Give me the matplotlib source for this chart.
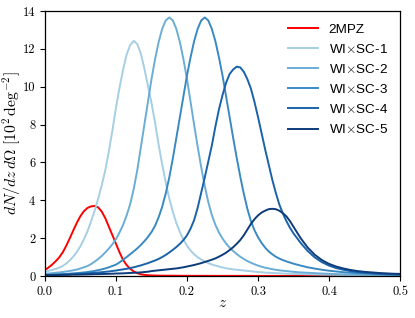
import numpy as np
import matplotlib
matplotlib.use("Agg")
import matplotlib.pyplot as plt

plt.rcParams['font.family'] = 'serif'
plt.rcParams['font.serif'] = ['cmr10']
plt.rcParams['mathtext.fontset'] = 'cm'
plt.rcParams['axes.formatter.use_mathtext'] = True

z = [0.000, 0.005, 0.010, 0.015, 0.020, 0.025, 0.030, 0.035, 0.040, 0.045,
     0.050, 0.055, 0.060, 0.065, 0.070, 0.075, 0.080, 0.085, 0.090, 0.095,
     0.100, 0.105, 0.110, 0.115, 0.120, 0.125, 0.130, 0.135, 0.140, 0.145,
     0.150, 0.155, 0.160, 0.165, 0.170, 0.175, 0.180, 0.185, 0.190, 0.195,
     0.200, 0.205, 0.210, 0.215, 0.220, 0.225, 0.230, 0.235, 0.240, 0.245,
     0.250, 0.255, 0.260, 0.265, 0.270, 0.275, 0.280, 0.285, 0.290, 0.295,
     0.300, 0.305, 0.310, 0.315, 0.320, 0.325, 0.330, 0.335, 0.340, 0.345,
     0.350,
     0.36, 0.37, 0.38, 0.39, 0.40, 0.41, 0.42, 0.43, 0.44, 0.45, 0.46, 0.47,
     0.48, 0.49, 0.50]

twompz = [0.32, 0.45, 0.60, 0.78, 0.98, 1.25, 1.60, 2.00, 2.42, 2.82,
          3.17, 3.43, 3.60, 3.68, 3.70, 3.62, 3.40, 3.05, 2.60, 2.15,
          1.70, 1.25, 0.85, 0.58, 0.38, 0.24, 0.15, 0.09, 0.06, 0.04,
          0.030, 0.025, 0.020, 0.018, 0.016, 0.015, 0.014, 0.013, 0.012, 0.011,
          0.010, 0.010, 0.009, 0.009, 0.009, 0.008, 0.008, 0.008, 0.008, 0.007,
          0.007, 0.007, 0.007, 0.006, 0.006, 0.006, 0.006, 0.006, 0.005, 0.005,
          0.005, 0.005, 0.005, 0.005, 0.005, 0.004, 0.004, 0.004, 0.004, 0.004,
          0.004,
          0.004, 0.003, 0.003, 0.003, 0.003, 0.003, 0.002, 0.002, 0.002, 0.002,
          0.002, 0.002, 0.002, 0.002, 0.002]

sc1 = [0.23, 0.27, 0.32, 0.37, 0.44, 0.53, 0.66, 0.83, 1.03, 1.28,
       1.58, 1.95, 2.38, 2.90, 3.45, 4.10, 4.80, 5.60, 6.60, 7.70,
       8.90, 9.95, 10.90, 11.70, 12.20, 12.42, 12.25, 11.75, 10.95, 10.05,
       9.15, 8.10, 6.95, 5.90, 4.95, 4.10, 3.40, 2.80, 2.32, 1.92,
       1.60, 1.35, 1.15, 0.99, 0.87, 0.77, 0.68, 0.61, 0.55, 0.50,
       0.45, 0.41, 0.38, 0.35, 0.33, 0.31, 0.29, 0.27, 0.25, 0.23,
       0.21, 0.20, 0.18, 0.17, 0.16, 0.15, 0.14, 0.13, 0.12, 0.115,
       0.11,
       0.10, 0.09, 0.08, 0.07, 0.065, 0.06, 0.055, 0.05, 0.045, 0.04,
       0.038, 0.035, 0.033, 0.031, 0.03]

sc2 = [0.12, 0.13, 0.15, 0.17, 0.19, 0.21, 0.24, 0.27, 0.30, 0.34,
       0.40, 0.46, 0.53, 0.63, 0.76, 0.90, 1.06, 1.25, 1.45, 1.68,
       1.95, 2.30, 2.70, 3.20, 3.80, 4.60, 5.60, 6.80, 8.00, 9.20,
       10.40, 11.45, 12.35, 13.05, 13.50, 13.66, 13.50, 13.05, 12.35, 11.45,
       10.40, 9.20, 8.00, 6.84, 5.75, 4.75, 3.90, 3.22, 2.70, 2.30,
       1.98, 1.72, 1.50, 1.32, 1.16, 1.02, 0.90, 0.79, 0.70, 0.62,
       0.55, 0.49, 0.44, 0.40, 0.36, 0.33, 0.30, 0.28, 0.26, 0.24,
       0.22,
       0.19, 0.17, 0.15, 0.13, 0.115, 0.10, 0.09, 0.08, 0.072, 0.065,
       0.06, 0.055, 0.05, 0.047, 0.044]

sc3 = [0.06, 0.065, 0.07, 0.08, 0.09, 0.10, 0.11, 0.125, 0.14, 0.155,
       0.17, 0.19, 0.21, 0.24, 0.27, 0.31, 0.35, 0.40, 0.46, 0.53,
       0.60, 0.72, 0.86, 1.00, 1.15, 1.30, 1.46, 1.64, 1.84, 2.06,
       2.32, 2.65, 3.10, 3.65, 4.35, 5.20, 6.20, 7.30, 8.40, 9.50,
       10.60, 11.55, 12.40, 13.05, 13.50, 13.66, 13.50, 13.05, 12.40, 11.55,
       10.60, 9.50, 8.40, 7.30, 6.25, 5.25, 4.35, 3.55, 2.90, 2.42,
       2.05, 1.75, 1.50, 1.30, 1.15, 1.02, 0.92, 0.84, 0.77, 0.71,
       0.65,
       0.55, 0.46, 0.39, 0.33, 0.28, 0.24, 0.20, 0.17, 0.15, 0.13,
       0.12, 0.10, 0.09, 0.08, 0.07]

sc4 = [0.05, 0.055, 0.06, 0.065, 0.07, 0.075, 0.08, 0.09, 0.10, 0.11,
       0.12, 0.13, 0.14, 0.155, 0.17, 0.185, 0.20, 0.22, 0.24, 0.265,
       0.29, 0.32, 0.35, 0.38, 0.42, 0.46, 0.51, 0.56, 0.62, 0.68,
       0.75, 0.82, 0.90, 1.00, 1.11, 1.24, 1.38, 1.53, 1.70, 1.90,
       2.15, 2.50, 2.95, 3.60, 4.40, 5.20, 6.05, 6.90, 7.90, 8.80,
       9.55, 10.20, 10.67, 10.91, 11.06, 11.02, 10.79, 10.40, 9.90, 9.20,
       8.40, 7.55, 6.70, 5.90, 5.10, 4.40, 3.78, 3.30, 2.90, 2.55,
       2.25,
       1.75, 1.32, 0.98, 0.73, 0.55, 0.42, 0.33, 0.26, 0.21, 0.17,
       0.14, 0.12, 0.10, 0.09, 0.08]

sc5 = [0.04, 0.045, 0.05, 0.05, 0.055, 0.06, 0.06, 0.065, 0.07, 0.07,
       0.075, 0.08, 0.085, 0.09, 0.095, 0.10, 0.105, 0.11, 0.115, 0.12,
       0.13, 0.135, 0.14, 0.15, 0.16, 0.17, 0.18, 0.19, 0.21, 0.225,
       0.26, 0.28, 0.30, 0.32, 0.34, 0.36, 0.38, 0.40, 0.43, 0.46,
       0.50, 0.54, 0.58, 0.63, 0.68, 0.74, 0.80, 0.86, 0.93, 1.02,
       1.12, 1.23, 1.37, 1.52, 1.70, 1.90, 2.15, 2.45, 2.75, 3.00,
       3.20, 3.35, 3.45, 3.53, 3.55, 3.53, 3.45, 3.32, 3.15, 2.90,
       2.60,
       2.00, 1.50, 1.12, 0.84, 0.64, 0.50, 0.40, 0.32, 0.26, 0.22,
       0.19, 0.16, 0.14, 0.12, 0.11]

labels = ['2MPZ', r'WI$\times$SC-1', r'WI$\times$SC-2', r'WI$\times$SC-3',
          r'WI$\times$SC-4', r'WI$\times$SC-5']
colors = ['#ff0000', '#a6cee4', '#6aaed6', '#3a8ac2', '#1a62aa', '#0d3c7c']
series = [twompz, sc1, sc2, sc3, sc4, sc5]

xticks = [0.0, 0.1, 0.2, 0.3, 0.4, 0.5]
yticks = [0, 2, 4, 6, 8, 10, 12, 14]

fig = plt.figure(figsize=(4.15, 3.18), dpi=100)
ax = fig.add_axes([0.1084, 0.1321, 0.8555, 0.8333])

for ys, c, lab in zip(series, colors, labels):
    ax.plot(z, ys, color=c, lw=1.4, label=lab)

ax.set_xlim(0, 0.5)
ax.set_ylim(0, 14)
ax.set_xticks(xticks)
ax.set_yticks(yticks)
ax.set_xticklabels(['%.1f' % t for t in xticks])
ax.set_yticklabels(['%d' % t for t in yticks])
ax.tick_params(labelsize=9, direction='out', length=3.5, width=0.8)
ax.set_xlabel(r'$z$', fontsize=11)
ax.set_ylabel(r'$dN/dz\,d\Omega\ [10^2\,{\rm deg}^{-2}]$', fontsize=11.3)
ax.yaxis.set_label_coords(-0.063, 0.5)
ax.xaxis.set_label_coords(0.5, -0.078)
for s in ax.spines.values():
    s.set_linewidth(0.9)

leg = ax.legend(loc='upper right', frameon=False,
                prop={'family': 'Liberation Sans', 'size': 9.7},
                handlelength=2.2, labelspacing=0.53)

fig.savefig('out.png', dpi=100)
